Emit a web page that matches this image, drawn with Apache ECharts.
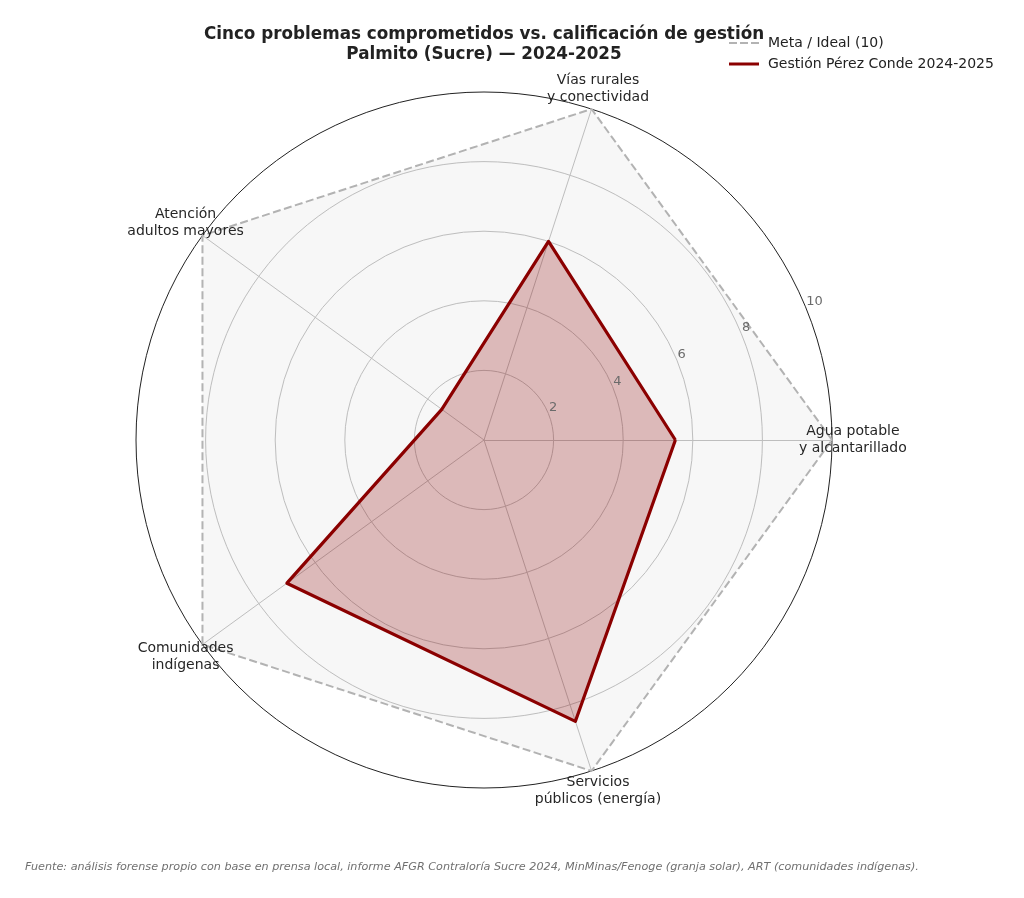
<!DOCTYPE html>
<html>
<head>
<meta charset="utf-8">
<title>Palmito (Sucre) - radar</title>
<script src="https://cdn.jsdelivr.net/npm/echarts@6/dist/echarts.min.js"></script>
<style>
  html, body { margin: 0; padding: 0; background: #fff; }
  #main { width: 1024px; height: 898px; }
</style>
</head>
<body>
<div id="main"></div>
<script>
// datos
var categorias = [
  'Agua potable\ny alcantarillado',
  'Vías rurales\ny conectividad',
  'Atención\nadultos mayores',
  'Comunidades\nindígenas',
  'Servicios\npúblicos (energía)'
];
var meta = [10, 10, 10, 10, 10];
var gestion = [5.5, 6.0, 1.5, 7.0, 8.5];
var ticks = [2, 4, 6, 8, 10];
var nombreMeta = 'Meta / Ideal (10)';
var nombreGestion = 'Gestión Pérez Conde 2024-2025';

var FONT = 'DejaVu Sans';
var centro = [484, 440];
var radio = 348;
var radioEtiqueta = 10.6; // etiquetas de categoría, un poco fuera del círculo

var myChart = echarts.init(document.getElementById('main'));

var etiquetas = categorias.map(function (c, i) {
  return { name: c, value: [radioEtiqueta, i * 360 / categorias.length] };
});

var option = {
  backgroundColor: '#fff',
  textStyle: { fontFamily: FONT },
  title: [{
    text: 'Cinco problemas comprometidos vs. calificación de gestión\nPalmito (Sucre) — 2024-2025',
    left: 484, top: 25, textAlign: 'center', padding: 0,
    textStyle: { fontFamily: FONT, fontSize: 16.8, fontWeight: 'bold', color: '#222', lineHeight: 20 }
  }, {
    text: 'Fuente: análisis forense propio con base en prensa local, informe AFGR Contraloría Sucre 2024, MinMinas/Fenoge (granja solar), ART (comunidades indígenas).',
    left: 25, top: 862, padding: 0,
    textStyle: { fontFamily: FONT, fontSize: 11.2, fontStyle: 'italic', fontWeight: 'normal', color: '#707070' }
  }],
  legend: {
    orient: 'vertical', left: 729, top: 35, padding: 0,
    itemWidth: 30, itemHeight: 3, itemGap: 5,
    itemStyle: { borderWidth: 0 },
    textStyle: { fontFamily: FONT, fontSize: 14, color: '#222', lineHeight: 16, padding: [0, 0, 0, 4] },
    data: [
      { name: nombreMeta, icon: 'path://M0,0h8v2h-8zM11,0h8v2h-8zM22,0h8v2h-8z' },
      { name: nombreGestion, icon: 'path://M0,0h30v3h-30z' }
    ]
  },
  radar: {
    center: centro, radius: radio, startAngle: 0, shape: 'circle', splitNumber: 5,
    indicator: categorias.map(function (c) { return { name: c, min: 0, max: 10 }; }),
    axisName: { show: false },
    axisLine: { lineStyle: { color: '#c0c0c0', width: 1 } },
    axisTick: { show: false },
    axisLabel: { show: false },
    splitLine: { lineStyle: { color: ['#c0c0c0', '#c0c0c0', '#c0c0c0', '#c0c0c0', '#c0c0c0', '#222'], width: 1 } },
    splitArea: { show: false }
  },
  polar: [
    { center: centro, radius: radio },
    { center: centro, radius: radio }
  ],
  angleAxis: [
    { polarIndex: 0, type: 'value', min: 0, max: 360, startAngle: 22.5, show: false },
    { polarIndex: 1, type: 'value', min: 0, max: 360, startAngle: 0, clockwise: false, show: false }
  ],
  radiusAxis: [{
    polarIndex: 0, type: 'value', min: 0, max: 10, interval: 2, z: 10,
    axisLine: { show: false }, axisTick: { show: false }, splitLine: { show: false },
    axisLabel: {
      showMinLabel: false, margin: 6, align: 'left', verticalAlign: 'middle', padding: [0, 0, 0, 3],
      fontFamily: FONT, fontSize: 13, color: '#6b6b6b',
      formatter: function (v) { return ticks.indexOf(v) >= 0 ? String(v) : ''; }
    }
  }, {
    polarIndex: 1, type: 'value', min: 0, max: 10, show: false
  }],
  series: [{
    type: 'radar', name: nombreMeta, symbol: 'none', z: 2,
    itemStyle: { color: '#b3b3b3' },
    lineStyle: { color: '#b3b3b3', width: 2, type: [8, 3.5] },
    areaStyle: { color: '#b0b0b0', opacity: 0.1 },
    data: [{ name: nombreMeta, value: meta }]
  }, {
    type: 'radar', name: nombreGestion, symbol: 'none', z: 3,
    itemStyle: { color: '#8b0000' },
    lineStyle: { color: '#8b0000', width: 3.2 },
    areaStyle: { color: '#8b0000', opacity: 0.25 },
    data: [{ name: nombreGestion, value: gestion }]
  }, {
    type: 'scatter', coordinateSystem: 'polar', polarIndex: 1, symbolSize: 0, clip: false, silent: true, z: 5,
    itemStyle: { opacity: 1 },
    label: {
      show: true, position: 'inside', formatter: '{b}', align: 'center', verticalAlign: 'middle',
      fontFamily: FONT, fontSize: 14, color: '#262626', lineHeight: 17, opacity: 1
    },
    data: etiquetas
  }]
};

myChart.setOption(option);
</script>
</body>
</html>
